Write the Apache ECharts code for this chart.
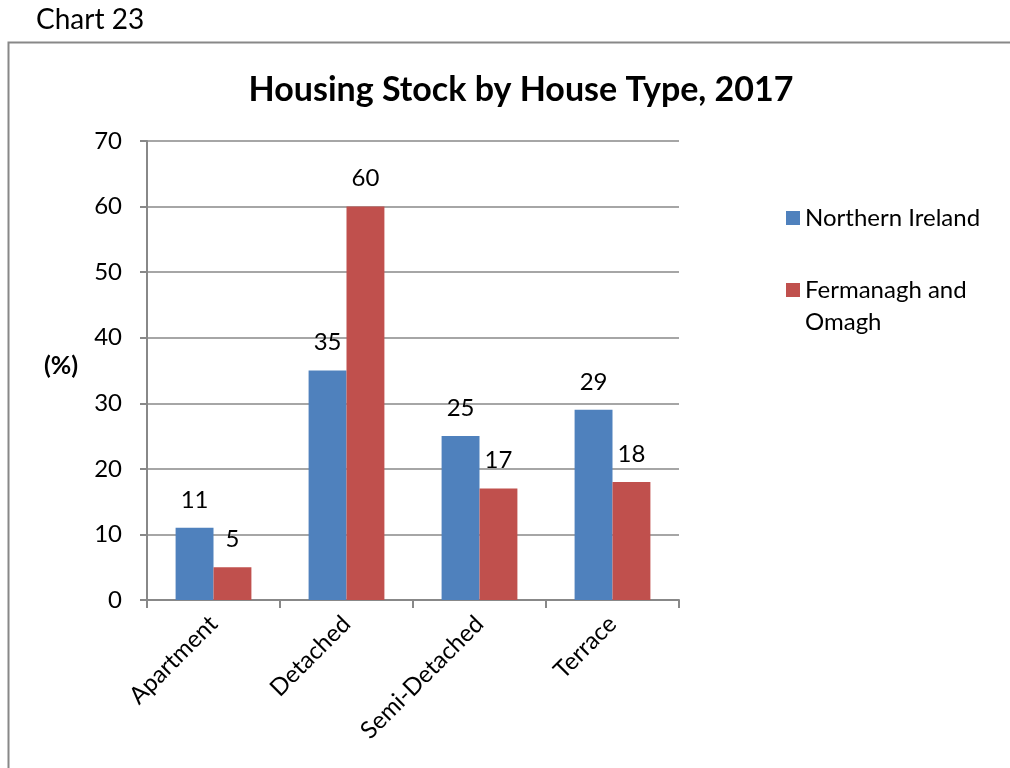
<!DOCTYPE html>
<html>
<head>
<meta charset="utf-8">
<title>Housing Stock by House Type, 2017</title>
<script src="https://cdn.jsdelivr.net/npm/echarts@6/dist/echarts.min.js"></script>
<style>
  html, body { margin: 0; padding: 0; background: #fff; }
  #main { width: 1010px; height: 768px; }
</style>
</head>
<body>
<div id="main"></div>
<script>
// data
var categories = ['Apartment', 'Detached', 'Semi-Detached', 'Terrace'];
var northernIreland = [11, 35, 25, 29];
var fermanaghOmagh = [5, 60, 17, 18];
var yTicks = { min: 0, max: 70, interval: 10 };

var font = 'Lato, "Open Sans", sans-serif';
var chart = echarts.init(document.getElementById('main'));

var labelStyle = {
  show: true,
  position: 'top',
  distance: 16,
  fontFamily: font,
  fontSize: 24,
  color: '#000'
};

// square at the top of a tall box, so the icon lines up with the first text line
var tallIcon = 'path://M0,0h14v14h-14z M0,45.99h0.01v0.01h-0.01z';

chart.setOption({
  animation: false,
  backgroundColor: '#fff',
  title: {
    text: 'Housing Stock by House Type, 2017',
    left: 516,
    textAlign: 'center',
    top: 68,
    textStyle: { fontFamily: font, fontSize: 34, fontWeight: 'bold', color: '#000' }
  },
  graphic: [
    { type: 'text', left: 36, top: 6, style: { text: 'Chart 23', fontFamily: font, fontSize: 28, fill: '#000' } },
    { type: 'rect', shape: { x: 8.5, y: 42.5, width: 1040, height: 800 },
      style: { fill: 'none', stroke: '#888', lineWidth: 2 }, z: -1 },
    { type: 'text', left: 44, top: 353, style: { text: '(%)', fontFamily: font, fontSize: 25, fontWeight: 'bold', fill: '#000' } }
  ],
  legend: [
    {
      data: ['Northern Ireland'],
      orient: 'vertical',
      left: 781, top: 201,
      itemWidth: 14, itemHeight: 14,
      icon: 'rect',
      textStyle: { fontFamily: font, fontSize: 24, color: '#000' }
    },
    {
      data: ['Fermanagh and Omagh'],
      orient: 'vertical',
      left: 781, top: 269,
      itemWidth: 14, itemHeight: 46,
      icon: tallIcon,
      formatter: function () { return 'Fermanagh and\nOmagh'; },
      textStyle: { fontFamily: font, fontSize: 24, lineHeight: 32, color: '#000' }
    }
  ],
  grid: { left: 147, right: 331, top: 141, bottom: 168, containLabel: false },
  xAxis: {
    type: 'category',
    data: categories,
    axisLine: { lineStyle: { color: '#888', width: 2 } },
    axisTick: { show: true, length: 8, alignWithLabel: false, lineStyle: { color: '#888', width: 2 } },
    axisLabel: { rotate: 45, fontFamily: font, fontSize: 24, color: '#000', margin: 20 }
  },
  yAxis: {
    type: 'value',
    min: yTicks.min, max: yTicks.max, interval: yTicks.interval,
    axisLine: { show: true, lineStyle: { color: '#888', width: 2 } },
    axisTick: { show: true, length: 7, lineStyle: { color: '#888', width: 2 } },
    axisLabel: { fontFamily: font, fontSize: 24, color: '#000', margin: 25 },
    splitLine: { lineStyle: { color: '#888', width: 1.5 } }
  },
  series: [
    {
      name: 'Northern Ireland',
      type: 'bar',
      data: northernIreland,
      barGap: '0%',
      barCategoryGap: '43%',
      itemStyle: { color: '#4F81BD' },
      label: labelStyle
    },
    {
      name: 'Fermanagh and Omagh',
      type: 'bar',
      data: fermanaghOmagh,
      itemStyle: { color: '#C0504D' },
      label: labelStyle
    }
  ]
});
</script>
</body>
</html>
